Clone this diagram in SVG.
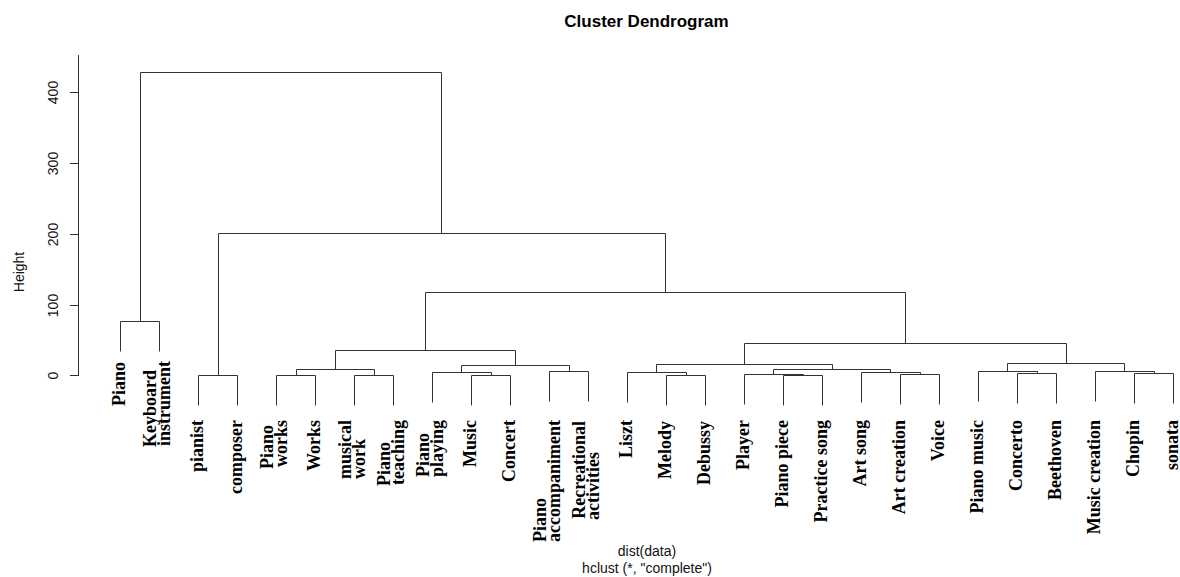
<svg xmlns="http://www.w3.org/2000/svg" width="1180" height="577" viewBox="0 0 1180 577">
<style>
.lbl{font-family:"Liberation Serif","Times New Roman",serif;font-weight:bold;font-size:18px;fill:#000}
.ax{font-family:"Liberation Sans",Arial,sans-serif;font-size:14px;fill:#111}
.ttl{font-family:"Liberation Sans",Arial,sans-serif;font-size:17px;font-weight:bold;fill:#000}
.edge{fill:none;stroke:#333;stroke-width:1}
.axl{fill:none;stroke:#333;stroke-width:1}
.e{text-anchor:end}
.s{text-anchor:start}
</style>
<rect x="0" y="0" width="1180" height="577" fill="#fff"/>
<text class="ttl" x="646.5" y="27" text-anchor="middle">Cluster Dendrogram</text>
<g id="axis">
<path class="axl" d="M78.5 55V376M70 375.5H78.5M70 305.5H78.5M70 234.5H78.5M70 163.5H78.5M70 92.5H78.5"/>
<text class="ax" transform="translate(58,375.5) rotate(-90)" text-anchor="middle">0</text>
<text class="ax" transform="translate(58,305.5) rotate(-90)" text-anchor="middle">100</text>
<text class="ax" transform="translate(58,234.5) rotate(-90)" text-anchor="middle">200</text>
<text class="ax" transform="translate(58,163.5) rotate(-90)" text-anchor="middle">300</text>
<text class="ax" transform="translate(58,92.5) rotate(-90)" text-anchor="middle">400</text>
<text class="ax" transform="translate(23.5,272) rotate(-90)" text-anchor="middle">Height</text>
<text class="ax" x="647" y="556" text-anchor="middle">dist(data)</text>
<text class="ax" x="647" y="572.5" text-anchor="middle">hclust (*, "complete")</text>
</g>
<g id="connectors">
<path class="edge" d="M120.5 351.5V321.5H159.5V351.5"/>
<path class="edge" d="M198.5 405.5V375.5H237.5V405.5"/>
<path class="edge" d="M276.5 405.5V375.5H315.5V405.5"/>
<path class="edge" d="M354.5 405.5V375.5H393.5V405.5"/>
<path class="edge" d="M296.5 375.5V369.5H374.5V375.5"/>
<path class="edge" d="M471.5 405.5V375.5H510.5V405.5"/>
<path class="edge" d="M432.5 402.5V372.5H491.5V375.5"/>
<path class="edge" d="M549.5 401.5V371.5H588.5V401.5"/>
<path class="edge" d="M461.5 372.5V365.5H569.5V371.5"/>
<path class="edge" d="M335.5 369.5V350.5H515.5V365.5"/>
<path class="edge" d="M666.5 405.5V375.5H705.5V405.5"/>
<path class="edge" d="M627.5 402.5V372.5H686.5V375.5"/>
<path class="edge" d="M783.5 405.5V375.5H822.5V405.5"/>
<path class="edge" d="M744.5 404.5V374.5H803.5V375.5"/>
<path class="edge" d="M900.5 404.5V374.5H939.5V404.5"/>
<path class="edge" d="M861.5 402.5V372.5H920.5V374.5"/>
<path class="edge" d="M773.5 374.5V369.5H890.5V372.5"/>
<path class="edge" d="M656.5 372.5V364.5H832.5V369.5"/>
<path class="edge" d="M1017.5 403.5V373.5H1056.5V403.5"/>
<path class="edge" d="M978.5 401.5V371.5H1037.5V373.5"/>
<path class="edge" d="M1134.5 403.5V373.5H1173.5V403.5"/>
<path class="edge" d="M1095.5 401.5V371.5H1154.5V373.5"/>
<path class="edge" d="M1007.5 371.5V363.5H1124.5V371.5"/>
<path class="edge" d="M744.5 364.5V343.5H1066.5V363.5"/>
<path class="edge" d="M425.5 350.5V292.5H905.5V343.5"/>
<path class="edge" d="M218.5 375.5V233.5H665.5V292.5"/>
<path class="edge" d="M140.5 321.5V72.5H441.5V233.5"/>
</g>
<g id="leaf-piano"><text class="lbl e" transform="translate(120.5,362) rotate(-90)" y="4">Piano</text></g>
<g id="leaf-keyboard-instrument">
<text class="lbl s" transform="translate(159.5,447) rotate(-90)" y="-3.5">Keyboard</text>
<text class="lbl e" transform="translate(159.5,361) rotate(-90)" y="10.5">instrument</text>
</g>
<g id="leaf-pianist"><text class="lbl e" transform="translate(198.5,420) rotate(-90)" y="4">pianist</text></g>
<g id="leaf-composer"><text class="lbl e" transform="translate(237.5,420) rotate(-90)" y="4">composer</text></g>
<g id="leaf-piano-works">
<text class="lbl s" transform="translate(276.5,469) rotate(-90)" y="-3.5">Piano</text>
<text class="lbl e" transform="translate(276.5,420) rotate(-90)" y="10.5">works</text>
</g>
<g id="leaf-works"><text class="lbl e" transform="translate(315.5,420) rotate(-90)" y="4">Works</text></g>
<g id="leaf-musical-work">
<text class="lbl e" transform="translate(354.5,420) rotate(-90)" y="-3.5">musical</text>
<text class="lbl s" transform="translate(354.5,479) rotate(-90)" y="10.5">work</text>
</g>
<g id="leaf-piano-teaching">
<text class="lbl s" transform="translate(393.5,486) rotate(-90)" y="-3.5">Piano</text>
<text class="lbl e" transform="translate(393.5,420) rotate(-90)" y="10.5">teaching</text>
</g>
<g id="leaf-piano-playing">
<text class="lbl s" transform="translate(432.5,477) rotate(-90)" y="-3.5">Piano</text>
<text class="lbl e" transform="translate(432.5,420) rotate(-90)" y="10.5">playing</text>
</g>
<g id="leaf-music"><text class="lbl e" transform="translate(471.5,420) rotate(-90)" y="4">Music</text></g>
<g id="leaf-concert"><text class="lbl e" transform="translate(510.5,420) rotate(-90)" y="4">Concert</text></g>
<g id="leaf-piano-accompaniment">
<text class="lbl s" transform="translate(549.5,542) rotate(-90)" y="-3.5">Piano</text>
<text class="lbl e" transform="translate(549.5,420) rotate(-90)" y="10.5">accompaniment</text>
</g>
<g id="leaf-recreational-activities">
<text class="lbl e" transform="translate(588.5,421) rotate(-90)" y="-3.5">Recreational</text>
<text class="lbl s" transform="translate(588.5,520) rotate(-90)" y="10.5">activities</text>
</g>
<g id="leaf-liszt"><text class="lbl e" transform="translate(627.5,420) rotate(-90)" y="4">Liszt</text></g>
<g id="leaf-melody"><text class="lbl e" transform="translate(666.5,421) rotate(-90)" y="4">Melody</text></g>
<g id="leaf-debussy"><text class="lbl e" transform="translate(705.5,421) rotate(-90)" y="4">Debussy</text></g>
<g id="leaf-player"><text class="lbl e" transform="translate(744.5,420) rotate(-90)" y="4">Player</text></g>
<g id="leaf-piano-piece"><text class="lbl e" transform="translate(783.5,420) rotate(-90)" y="4">Piano piece</text></g>
<g id="leaf-practice-song"><text class="lbl e" transform="translate(822.5,420) rotate(-90)" y="4">Practice song</text></g>
<g id="leaf-art-song"><text class="lbl e" transform="translate(861.5,420) rotate(-90)" y="4">Art song</text></g>
<g id="leaf-art-creation"><text class="lbl e" transform="translate(900.5,420) rotate(-90)" y="4">Art creation</text></g>
<g id="leaf-voice"><text class="lbl e" transform="translate(939.5,420) rotate(-90)" y="4">Voice</text></g>
<g id="leaf-piano-music"><text class="lbl e" transform="translate(978.5,420) rotate(-90)" y="4">Piano music</text></g>
<g id="leaf-concerto"><text class="lbl e" transform="translate(1017.5,420) rotate(-90)" y="4">Concerto</text></g>
<g id="leaf-beethoven"><text class="lbl e" transform="translate(1056.5,420) rotate(-90)" y="4">Beethoven</text></g>
<g id="leaf-music-creation"><text class="lbl e" transform="translate(1095.5,420) rotate(-90)" y="4">Music creation</text></g>
<g id="leaf-chopin"><text class="lbl e" transform="translate(1134.5,420) rotate(-90)" y="4">Chopin</text></g>
<g id="leaf-sonata"><text class="lbl e" transform="translate(1173.5,420) rotate(-90)" y="4">sonata</text></g>
</svg>
